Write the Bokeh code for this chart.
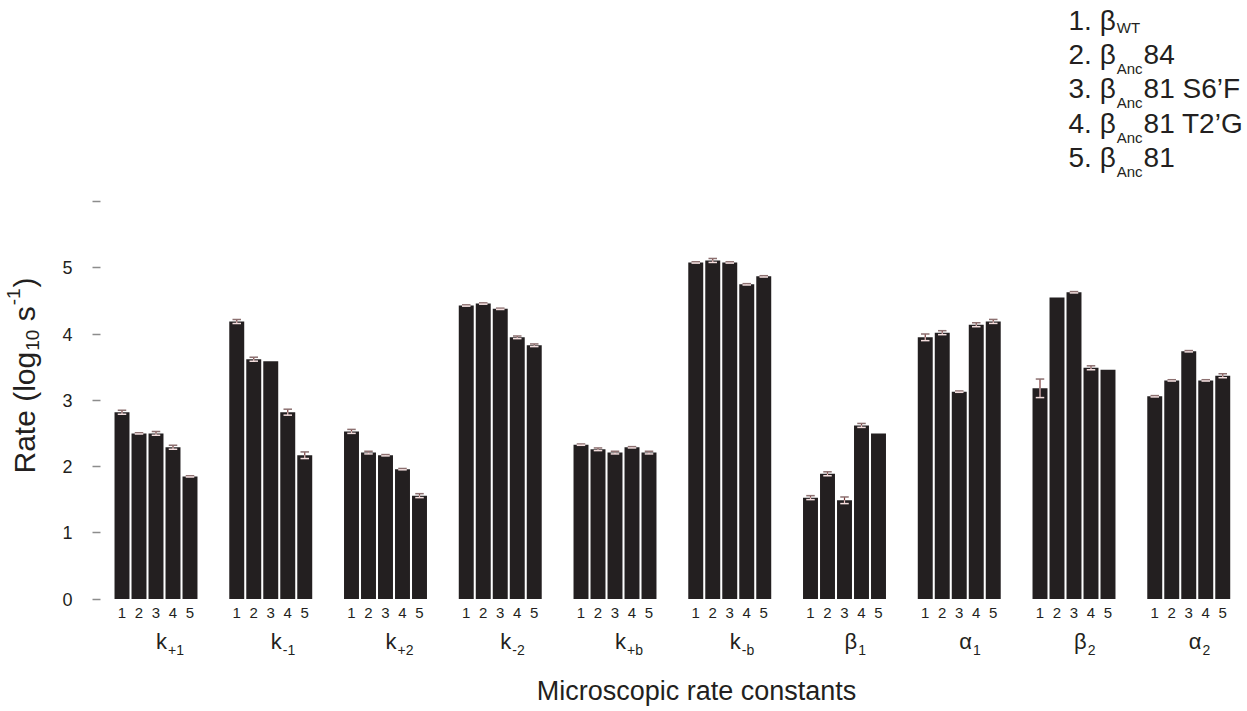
import numpy as np
from bokeh.plotting import figure
from bokeh.models import Range1d, LinearAxis, FixedTicker
from bokeh.core.properties import value
from bokeh.embed import file_html
from bokeh.resources import INLINE

# ---------------- data ----------------
group_main = ["k", "k", "k", "k", "k", "k", "β", "α", "β", "α"]
group_sub = ["+1", "-1", "+2", "-2", "+b", "-b", "1", "1", "2", "2"]
bar_labels = ["1", "2", "3", "4", "5"]

legend_num = ["1. β", "2. β", "3. β", "4. β", "5. β"]
legend_sub = ["WT", "Anc", "Anc", "Anc", "Anc"]
legend_tail = ["", "84", "81 S6’F", "81 T2’G", "81"]

rate_wt = [2.82, 4.19, 2.53, 4.43, 2.33, 5.08, 1.53, 3.95, 3.18, 3.06]
rate_anc84 = [2.50, 3.62, 2.21, 4.46, 2.26, 5.11, 1.89, 4.02, 4.55, 3.30]
rate_s6f = [2.50, 3.59, 2.17, 4.38, 2.21, 5.08, 1.49, 3.13, 4.63, 3.74]
rate_t2g = [2.29, 2.82, 1.96, 3.95, 2.29, 4.75, 2.62, 4.14, 3.49, 3.30]
rate_anc81 = [1.85, 2.17, 1.56, 3.83, 2.21, 4.87, 2.50, 4.19, 3.46, 3.37]

err_wt = [0.03, 0.03, 0.03, 0.01, 0.01, 0.01, 0.03, 0.05, 0.14, 0.01]
err_anc84 = [0.01, 0.03, 0.02, 0.01, 0.02, 0.03, 0.03, 0.03, 0.00, 0.01]
err_s6f = [0.03, 0.00, 0.01, 0.01, 0.02, 0.01, 0.05, 0.01, 0.01, 0.01]
err_t2g = [0.03, 0.045, 0.01, 0.02, 0.01, 0.01, 0.03, 0.03, 0.03, 0.01]
err_anc81 = [0.01, 0.05, 0.03, 0.02, 0.02, 0.01, 0.00, 0.03, 0.00, 0.03]

y_ticks = [0, 1, 2, 3, 4, 5, 6]
y_tick_labels = ["0", "1", "2", "3", "4", "5", ""]

x_title = "Microscopic rate constants"

# ---------------- geometry ----------------
W, H = 1247, 711
PXU_X, PXU_Y = 17.0, 66.25        # pixels per data unit
X0, Y0 = 121.5, 598.5              # canvas pixel of data origin
GROUP_STEP = 6.75
BAR_W = 0.88
FONT = value("Liberation Sans")
INK = "#231f20"

def dx(px):
    return (px - X0) / PXU_X

def dy(py):
    return (Y0 - py) / PXU_Y

CW = {" ": .278, "(": .333, ")": .333, ".": .278, "-": .333, "+": .584, "’": .222,
      "A": .667, "F": .611, "G": .778, "R": .722, "S": .667, "T": .611, "W": .944,
      "a": .556, "b": .556, "c": .5, "e": .556, "g": .556, "k": .5, "l": .222,
      "n": .556, "o": .556, "s": .5, "t": .278, "β": .575, "α": .578}

def tw(s, size):
    return sum(CW.get(ch, .556) for ch in s) * size

p = figure(width=W, height=H, min_border=0,
           x_range=Range1d(-X0 / PXU_X, (W - X0) / PXU_X),
           y_range=Range1d(-(H - Y0) / PXU_Y, Y0 / PXU_Y),
           output_backend="svg", toolbar_location=None,
           x_axis_type=None, y_axis_type=None)
p.outline_line_color = None
p.xgrid.visible = False
p.ygrid.visible = False
p.background_fill_color = "white"

series = [rate_wt, rate_anc84, rate_s6f, rate_t2g, rate_anc81]
errors = [err_wt, err_anc84, err_s6f, err_t2g, err_anc81]
ng = len(group_main)

xs, tops, errs = [], [], []
for g in range(ng):
    for i in range(len(series)):
        xs.append(g * GROUP_STEP + i)
        tops.append(series[i][g])
        errs.append(errors[i][g])
xs = np.array(xs); tops = np.array(tops); errs = np.array(errs)

p.vbar(x=xs, top=tops, bottom=0, width=BAR_W, fill_color=INK, line_color=None)

m = errs > 0
cap = 0.5
p.segment(x0=xs[m], y0=tops[m], x1=xs[m], y1=tops[m] + errs[m], line_color="#7a3a3a", line_width=1.2)
p.segment(x0=xs[m], y0=tops[m] - errs[m], x1=xs[m], y1=tops[m], line_color="#efc2c2", line_width=1.2)
p.segment(x0=xs[m] - cap / 2, y0=tops[m] + errs[m], x1=xs[m] + cap / 2, y1=tops[m] + errs[m],
          line_color="#8c7070", line_width=1.5)
p.segment(x0=xs[m] - cap / 2, y0=tops[m] - errs[m], x1=xs[m] + cap / 2, y1=tops[m] - errs[m],
          line_color="#f3dede", line_width=1.5)

# y axis
yax = LinearAxis(fixed_location=dx(100), ticker=FixedTicker(ticks=y_ticks),
                  major_label_overrides={t: l for t, l in zip(y_ticks, y_tick_labels)})
yax.axis_line_color = None
yax.minor_tick_line_color = None
yax.major_tick_in = 0
yax.major_tick_out = 8
yax.major_tick_line_color = "#8c8c8c"
yax.major_tick_line_width = 1.5
yax.major_label_standoff = 20
yax.major_label_text_font = "Liberation Sans"
yax.major_label_text_font_size = "18px"
yax.major_label_text_color = INK
p.add_layout(yax, "left")

# (text y positions below give the visual centre of each text)
# bar number labels
p.text(x=xs, y=[dy(612)] * len(xs), text=[bar_labels[i % 5] for i in range(len(xs))],
       text_font=FONT, text_font_size="15px", text_color=INK,
       text_align="center", text_baseline="alphabetic")

# group labels
GF, GS = 22, 14
gx = np.array([g * GROUP_STEP + 2 for g in range(ng)])
p.text(x=gx, y=[dy(641)] * ng, text=group_main, text_font=FONT, text_font_size=f"{GF}px",
       text_color=INK, text_align="left", text_baseline="alphabetic")
sub_x = [gx[g] + (tw(group_main[g], GF) + 1) / PXU_X for g in range(ng)]
p.text(x=sub_x, y=[dy(649)] * ng, text=group_sub, text_font=FONT, text_font_size=f"{GS}px",
       text_color=INK, text_align="left", text_baseline="alphabetic")

# x title
p.text(x=[dx(696)], y=[dy(690)], text=[x_title], text_font=FONT, text_font_size="27px",
       text_color=INK, text_align="center", text_baseline="alphabetic")

# y title (rotated, with sub/superscripts); gaps stand for spaces
YF, YS = 30, 19
pieces = [("Rate (log", YF, 0, 1), ("10", YS, 8, tw(" ", YF)), ("s", YF, 0, 1),
          ("-1", YS, -11, 1), (")", YF, 0, 0)]
py = 473.0
bx = 24.0
for txt, fs, off, gap in pieces:
    p.text(x=[dx(bx + off)], y=[dy(py)], text=[txt], angle=np.pi / 2, text_font=FONT,
           text_font_size=f"{fs}px", text_color=INK, text_align="left", text_baseline="alphabetic")
    py -= tw(txt, fs) + gap

# legend
LF, LS = 28, 15
for r in range(len(legend_num)):
    cy = 20 + r * 34.2
    x = 1068.0
    p.text(x=[dx(x)], y=[dy(cy)], text=[legend_num[r]], text_font=FONT,
           text_font_size=f"{LF}px", text_color=INK, text_align="left", text_baseline="alphabetic")
    x += tw(legend_num[r], LF) + 1
    off = 7 if legend_sub[r] == "WT" else 14
    p.text(x=[dx(x)], y=[dy(cy + off)], text=[legend_sub[r]], text_font=FONT,
           text_font_size=f"{LS}px", text_color=INK, text_align="left", text_baseline="alphabetic")
    x += tw(legend_sub[r], LS) + 1
    if legend_tail[r]:
        p.text(x=[dx(x)], y=[dy(cy)], text=[legend_tail[r]], text_font=FONT,
               text_font_size=f"{LF}px", text_color=INK, text_align="left", text_baseline="alphabetic")

open("out.html", "w").write(file_html(p, INLINE))
